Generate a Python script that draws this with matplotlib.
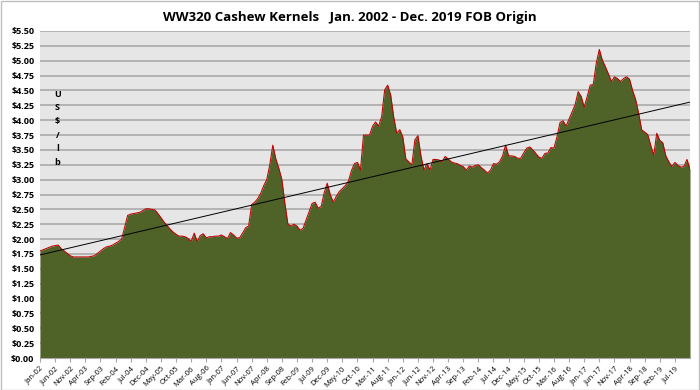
import numpy as np
import pandas as pd
import matplotlib
matplotlib.use("Agg")
import matplotlib.pyplot as plt
from matplotlib.patches import Rectangle
from matplotlib.ticker import FuncFormatter, MultipleLocator

# monthly FOB price, US$/lb, Jan-2002 .. Dec-2019
prices = [
    # 2002
    1.80, 1.82, 1.84, 1.86, 1.88, 1.89, 1.90, 1.84, 1.80, 1.76, 1.72, 1.70,
    # 2003
    1.70, 1.70, 1.70, 1.70, 1.70, 1.71, 1.72, 1.76, 1.80, 1.84, 1.87, 1.88,
    # 2004
    1.90, 1.93, 1.96, 2.00, 2.20, 2.40, 2.42, 2.43, 2.44, 2.45, 2.48, 2.51,
    # 2005
    2.51, 2.50, 2.49, 2.43, 2.36, 2.29, 2.23, 2.17, 2.12, 2.08, 2.05, 2.05,
    # 2006
    2.04, 2.01, 1.96, 2.10, 1.96, 2.06, 2.09, 2.02, 2.04, 2.04, 2.05, 2.05,
    # 2007
    2.07, 2.04, 2.01, 2.11, 2.07, 2.02, 2.02, 2.10, 2.19, 2.22, 2.58, 2.62,
    # 2008
    2.68, 2.77, 2.90, 3.00, 3.25, 3.58, 3.35, 3.19, 3.00, 2.60, 2.25, 2.22,
    # 2009
    2.25, 2.22, 2.15, 2.18, 2.32, 2.46, 2.60, 2.62, 2.52, 2.55, 2.78, 2.94,
    # 2010
    2.75, 2.62, 2.72, 2.80, 2.85, 2.90, 2.97, 3.15, 3.27, 3.29, 3.16, 3.75,
    # 2011
    3.75, 3.75, 3.90, 3.97, 3.90, 4.06, 4.51, 4.59, 4.42, 4.05, 3.78, 3.84,
    # 2012
    3.72, 3.35, 3.30, 3.25, 3.67, 3.74, 3.40, 3.16, 3.27, 3.16, 3.34, 3.34,
    # 2013
    3.33, 3.30, 3.39, 3.35, 3.30, 3.28, 3.27, 3.24, 3.22, 3.16, 3.23, 3.21,
    # 2014
    3.24, 3.25, 3.20, 3.16, 3.11, 3.16, 3.27, 3.26, 3.30, 3.40, 3.58, 3.40,
    # 2015
    3.40, 3.39, 3.36, 3.36, 3.45, 3.53, 3.55, 3.50, 3.44, 3.38, 3.36, 3.44,
    # 2016
    3.45, 3.54, 3.53, 3.72, 3.96, 3.99, 3.90, 4.02, 4.14, 4.26, 4.48, 4.40,
    # 2017
    4.22, 4.40, 4.59, 4.60, 4.96, 5.19, 5.01, 4.90, 4.78, 4.65, 4.73, 4.70,
    # 2018
    4.65, 4.70, 4.73, 4.69, 4.50, 4.35, 4.12, 3.84, 3.80, 3.76, 3.58, 3.41,
    # 2019
    3.78, 3.66, 3.62, 3.40, 3.30, 3.22, 3.29, 3.24, 3.21, 3.22, 3.34, 3.17,
]

months = pd.date_range("2002-01-01", "2019-12-01", freq="MS")
month_labels = [d.strftime("%b-%y") for d in months]

title = "WW320 Cashew Kernels   Jan. 2002 - Dec. 2019 FOB Origin"
y_label = "U\nS\n$\n/\nl\nb"

plt.rcParams['font.family'] = ['Open Sans', 'DejaVu Sans']

fig = plt.figure(figsize=(7, 3.9), dpi=100)
fig.patches.append(Rectangle((0.001, 0.001), 0.997, 0.996, transform=fig.transFigure,
                             fill=False, edgecolor="#BFBFBF", linewidth=1))
ax = fig.add_axes([40 / 700, 1 - 358 / 390, 650 / 700, 327 / 390])

x = np.arange(len(prices))
y = np.array(prices)

ax.set_facecolor("#E6E6E6")
ax.fill_between(x, y, 0, color="#4F6228", linewidth=0, zorder=2)
ax.plot(x, y, color="#C00000", linewidth=0.75, zorder=3)

# linear trend line
k, b = np.polyfit(x, y, 1)
ax.plot(x, k * x + b, color="black", linewidth=0.7, zorder=4)

ax.set_xlim(0, len(prices) - 1)
ax.set_ylim(0, 5.5)
ax.yaxis.set_major_locator(MultipleLocator(0.25))
ax.yaxis.set_major_formatter(FuncFormatter(lambda v, p: f"${v:.2f}"))
ax.grid(axis="y", color="#A6A6A6", linewidth=1.1, zorder=1)
ax.set_axisbelow(True)

# labels every 5 months, last one is Jul-19
tick_pos = x[:-1:5]
ax.set_xticks(tick_pos)
ax.set_xticklabels([month_labels[i] for i in tick_pos], rotation=45,
                   ha="right", rotation_mode="anchor", fontsize=5.5)
ax.tick_params(axis="x", length=3, color="#A6A6A6", pad=2)
ax.tick_params(axis="y", length=0, labelsize=6.5, pad=4)
for lbl in ax.get_yticklabels():
    lbl.set_fontweight("bold")

for side in ["top", "left", "right"]:
    ax.spines[side].set_visible(False)
ax.spines["bottom"].set_color("#A6A6A6")

ax.text(0.027, 0.82, y_label, transform=ax.transAxes, ha="center", va="top",
        fontsize=6.5, fontweight="bold", linespacing=1.65)

fig.text(0.5, 0.955, title, ha="center", va="center", fontsize=9.5, fontweight="bold")

fig.savefig("out.png", dpi=100)
